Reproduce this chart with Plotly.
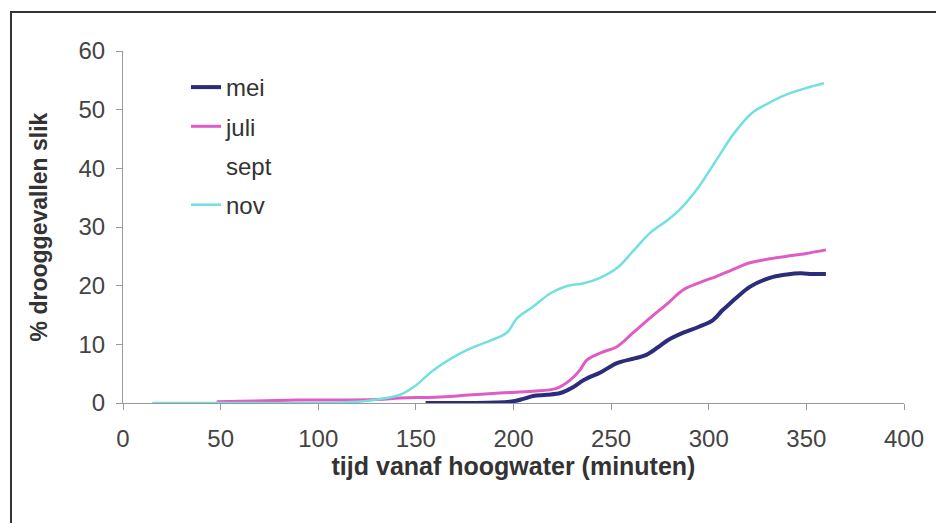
import plotly.graph_objects as go

# Data
mei_x = [155, 175, 198, 205, 210, 217, 224, 230, 236, 245, 253, 262, 268, 274, 279, 287, 295, 302, 307, 311, 314, 321, 327, 333, 340, 347, 353, 360]
mei_y = [0, 0, 0.2, 0.7, 1.2, 1.4, 1.7, 2.6, 3.9, 5.3, 6.8, 7.6, 8.2, 9.5, 10.7, 12.0, 13.0, 14.1, 15.8, 17.0, 17.9, 19.8, 20.8, 21.5, 21.9, 22.1, 22.0, 22.0]

juli_x = [48, 60, 90, 130, 142, 160, 175, 193, 210, 222, 229, 234, 237.5, 245, 253, 261, 270, 279, 287, 296, 304, 312, 321, 330, 340, 350, 360]
juli_y = [0.2, 0.3, 0.5, 0.6, 0.85, 1.0, 1.3, 1.7, 2.0, 2.5, 3.9, 5.6, 7.3, 8.6, 9.6, 11.9, 14.5, 17.0, 19.3, 20.6, 21.6, 22.7, 23.9, 24.5, 25.0, 25.5, 26.1]

nov_x = [15, 50, 100, 120, 130, 142, 150, 159, 176, 193, 197, 202, 210, 219, 227, 236, 244, 253, 261, 270, 279, 285, 295, 305, 313, 322, 330, 340, 350, 359]
nov_y = [0, 0, 0, 0.2, 0.6, 1.4, 3.0, 5.6, 9.0, 11.3, 12.1, 14.5, 16.4, 18.7, 19.9, 20.4, 21.3, 23.0, 25.8, 29.0, 31.2, 32.9, 36.9, 42.0, 46.0, 49.4, 51.0, 52.6, 53.7, 54.5]

sept_x = [None]
sept_y = [None]

x_ticks = [0, 50, 100, 150, 200, 250, 300, 350, 400]
y_ticks = [0, 10, 20, 30, 40, 50, 60]

FONT = "Liberation Sans, Arial, sans-serif"

fig = go.Figure()
fig.add_trace(go.Scatter(x=mei_x, y=mei_y, mode="lines", name="mei", legendgroup="a",
                         line=dict(color="#2b2d7a", width=4, shape="spline")))
fig.add_trace(go.Scatter(x=juli_x, y=juli_y, mode="lines", name="juli", legendgroup="b",
                         line=dict(color="#de5cc4", width=3, shape="spline")))
fig.add_trace(go.Scatter(x=sept_x, y=sept_y, mode="lines", name="sept", legendgroup="c",
                         line=dict(color="rgba(255,255,255,0)", width=2)))
fig.add_trace(go.Scatter(x=nov_x, y=nov_y, mode="lines", name="nov", legendgroup="d",
                         line=dict(color="#72e0e0", width=2.5, shape="spline")))

# page body has an 8px margin; compensate so positions match the screenshot
OFF = 8
W, H = 944, 523
L = 123 - OFF
T = 51 - OFF
R = W - (904 - OFF)
B = H - (403 - OFF)
pw, ph = W - L - R, H - T - B

def px_to_paper_x(px):
    return (px - OFF - L) / pw

def py_to_paper_y(py):
    return (H - B - (py - OFF)) / ph

fig.update_layout(
    width=W, height=H,
    margin=dict(l=L, r=R, t=T, b=B, autoexpand=False),
    paper_bgcolor="white", plot_bgcolor="white",
    font=dict(family=FONT, size=24, color="#444444"),
    showlegend=True,
    legend=dict(x=px_to_paper_x(186), y=py_to_paper_y(65), xanchor="left", yanchor="top",
                bgcolor="rgba(0,0,0,0)", font=dict(size=24, color="#333333"),
                tracegroupgap=5, itemwidth=30),
    xaxis=dict(range=[0, 400], tickvals=x_ticks, ticks="outside", ticklen=6,
               tickcolor="#999999", showline=True, linecolor="#999999", linewidth=1,
               showgrid=False, zeroline=False, ticklabelstandoff=8, automargin=False,
               tickfont=dict(size=24, color="#444444"),
               title=dict(text="<b>tijd vanaf hoogwater (minuten)</b>", standoff=6,
                          font=dict(size=25, color="#333333"))),
    yaxis=dict(range=[0, 60], tickvals=y_ticks, ticks="outside", ticklen=6,
               tickcolor="#999999", showline=True, linecolor="#999999", linewidth=1,
               showgrid=False, zeroline=False, ticklabelstandoff=6, automargin=False,
               tickfont=dict(size=24, color="#444444"),
               title=dict(text="<b>% drooggevallen slik</b>", standoff=24,
                          font=dict(size=23, color="#333333"))),
    shapes=[dict(type="rect", xref="paper", yref="paper",
                 x0=px_to_paper_x(11), x1=px_to_paper_x(970),
                 y0=py_to_paper_y(560), y1=py_to_paper_y(12),
                 line=dict(color="#333333", width=2), fillcolor="rgba(0,0,0,0)", layer="below")],
)

fig.write_html("out.html")
